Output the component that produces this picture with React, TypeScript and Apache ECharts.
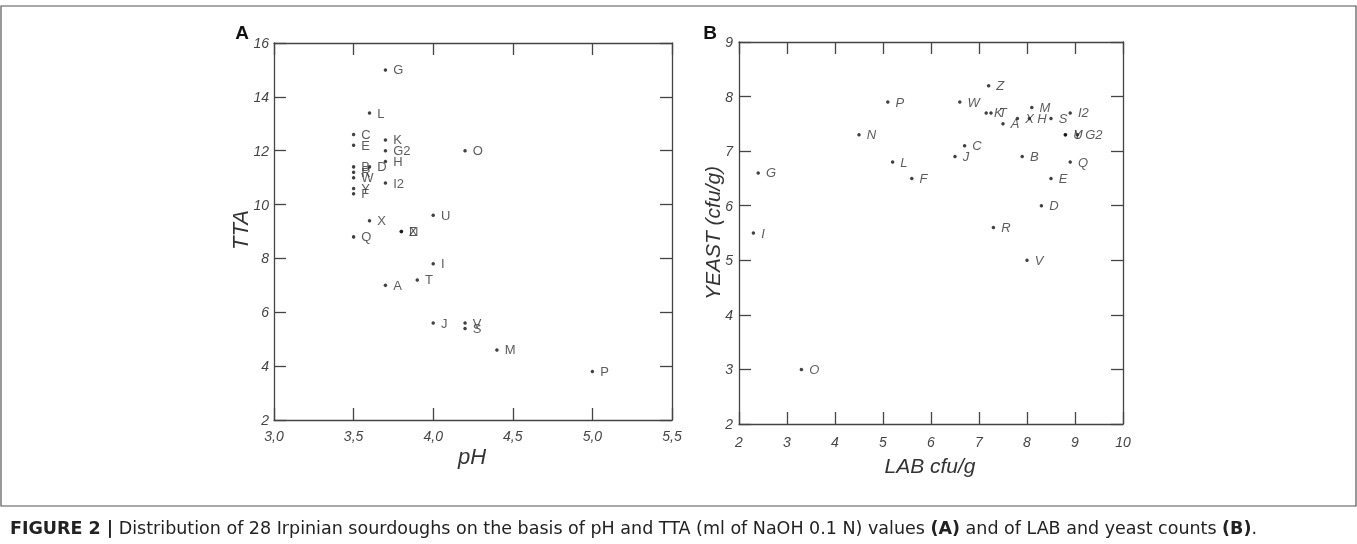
import React, { useEffect, useRef } from "react";
import * as echarts from "echarts";

// Panel A: pH vs TTA
const namesA = ["A","B","C","D","E","F","G","H","I","J","K","L","M","N","O","P","Q","R","S","T","U","V","W","X","Y","Z","G2","I2"];
const phValues = [3.7,3.5,3.5,3.6,3.5,3.5,3.7,3.7,4.0,4.0,3.7,3.6,4.4,3.8,4.2,5.0,3.5,3.5,4.2,3.9,4.0,4.2,3.5,3.6,3.5,3.8,3.7,3.7];
const ttaValues = [7.0,11.4,12.6,11.4,12.2,10.4,15.0,11.6,7.8,5.6,12.4,13.4,4.6,9.0,12.0,3.8,8.8,11.2,5.4,7.2,9.6,5.6,11.0,9.4,10.6,9.0,12.0,10.8];

// Panel B: LAB vs YEAST
const namesB = ["A","B","C","D","E","F","G","H","I","J","K","L","M","N","O","P","Q","R","S","T","U","V","W","X","Y","Z","G2","I2"];
const labValues = [7.5,7.9,6.7,8.3,8.5,5.6,2.4,8.05,2.3,6.5,7.15,5.2,8.1,4.5,3.3,5.1,8.9,7.3,8.5,7.25,8.8,8.0,6.6,7.8,8.8,7.2,9.05,8.9];
const yeastValues = [7.5,6.9,7.1,6.0,6.5,6.5,6.6,7.6,5.5,6.9,7.7,6.8,7.8,7.3,3.0,7.9,6.8,5.6,7.6,7.7,7.3,5.0,7.9,7.6,7.3,8.2,7.3,7.7];

const captionBold = "FIGURE 2 |";
const captionText = "Distribution of 28 Irpinian sourdoughs on the basis of pH and TTA (ml of NaOH 0.1 N) values ";
const captionText2 = " and of LAB and yeast counts ";

const AXIS = "#444";
const TXT = "#444";
const FONT = "'Liberation Sans', Arial, sans-serif";
const CAPFONT = "'DejaVu Sans', sans-serif";

function axisBase(extra: any) {
  return {
    axisLine: { show: true, lineStyle: { color: AXIS, width: 1.3 } },
    axisTick: { show: true, inside: true, length: 12, lineStyle: { color: AXIS, width: 1.3 } },
    splitLine: { show: false },
    ...extra,
  };
}

export default function App() {
  const ref = useRef<HTMLDivElement>(null);
  useEffect(() => {
    const chart = echarts.init(ref.current!, undefined, { renderer: "svg" });
    const dataA = namesA.map((n, i) => ({ name: n, value: [phValues[i], ttaValues[i]] }));
    const dataB = namesB.map((n, i) => ({ name: n, value: [labValues[i], yeastValues[i]] }));
    const labA = { show: true, fontSize: 14, fontStyle: "italic", color: TXT, fontFamily: FONT, margin: 9 };
    const labAY = { show: true, fontSize: 14, fontStyle: "italic", color: TXT, fontFamily: FONT, margin: 5 };
    const option: any = {
      animation: false,
      grid: [
        { left: 274, top: 43, width: 398, height: 377 },
        { left: 739, top: 42, width: 384, height: 382 },
      ],
      xAxis: [
        axisBase({ gridIndex: 0, type: "value", position: "bottom", min: 3, max: 5.5, interval: 0.5,
          axisLabel: { ...labA, formatter: (v: number) => v.toFixed(1).replace(".", ",") } }),
        axisBase({ gridIndex: 0, type: "value", position: "top", min: 3, max: 5.5, interval: 0.5, axisLabel: { show: false } }),
        axisBase({ gridIndex: 1, type: "value", position: "bottom", min: 2, max: 10, interval: 1,
          axisLabel: { ...labA, margin: 11 } }),
        axisBase({ gridIndex: 1, type: "value", position: "top", min: 2, max: 10, interval: 1, axisLabel: { show: false } }),
      ],
      yAxis: [
        axisBase({ gridIndex: 0, type: "value", position: "left", min: 2, max: 16, interval: 2, axisLabel: labAY }),
        axisBase({ gridIndex: 0, type: "value", position: "right", min: 2, max: 16, interval: 2, axisLabel: { show: false } }),
        axisBase({ gridIndex: 1, type: "value", position: "left", min: 2, max: 9, interval: 1, axisLabel: { ...labAY, margin: 6 } }),
        axisBase({ gridIndex: 1, type: "value", position: "right", min: 2, max: 9, interval: 1, axisLabel: { show: false } }),
      ],
      series: [
        {
          type: "scatter", xAxisIndex: 0, yAxisIndex: 0, data: dataA, symbolSize: 3.5,
          itemStyle: { color: "#111" },
          label: { show: true, position: "right", distance: 6, formatter: "{b}", fontSize: 13, color: "#333", fontFamily: FONT },
        },
        {
          type: "scatter", xAxisIndex: 2, yAxisIndex: 2, data: dataB, symbolSize: 3.5,
          itemStyle: { color: "#111" },
          label: { show: true, position: "right", distance: 6, formatter: "{b}", fontSize: 13, fontStyle: "italic", color: "#333", fontFamily: FONT },
        },
      ],
      graphic: [
        { type: "rect", shape: { x: 1, y: 6, width: 1355, height: 500 }, style: { fill: "none", stroke: "#555", lineWidth: 1.2 } },
        { type: "text", x: 242, y: 32, style: { text: "A", font: `bold 19px ${FONT}`, fill: "#111", align: "center", verticalAlign: "middle" } },
        { type: "text", x: 710, y: 32, style: { text: "B", font: `bold 19px ${FONT}`, fill: "#111", align: "center", verticalAlign: "middle" } },
        { type: "text", x: 472, y: 456, style: { text: "pH", font: `italic 22px ${FONT}`, fill: "#333", align: "center", verticalAlign: "middle" } },
        { type: "text", x: 240, y: 230, rotation: Math.PI / 2, style: { text: "TTA", font: `italic 22px ${FONT}`, fill: "#333", align: "center", verticalAlign: "middle" } },
        { type: "text", x: 930, y: 465, style: { text: "LAB cfu/g", font: `italic 21px ${FONT}`, fill: "#333", align: "center", verticalAlign: "middle" } },
        { type: "text", x: 712, y: 233, rotation: Math.PI / 2, style: { text: "YEAST (cfu/g)", font: `italic 21px ${FONT}`, fill: "#333", align: "center", verticalAlign: "middle" } },
        {
          type: "text", x: 10, y: 528,
          style: {
            text: `{b|${captionBold}} ${captionText}{b|(A)}${captionText2}{b|(B)}.`,
            font: `17.5px ${CAPFONT}`, fill: "#222", verticalAlign: "middle",
            rich: { b: { fontWeight: "bold", fontSize: 17.5, fontFamily: CAPFONT, fill: "#222" } },
          },
        },
      ],
    };
    chart.setOption(option);
    return () => chart.dispose();
  }, []);
  return <div ref={ref} style={{ position: "fixed", left: 0, top: 0, width: 1357, height: 544 }} />;
}
